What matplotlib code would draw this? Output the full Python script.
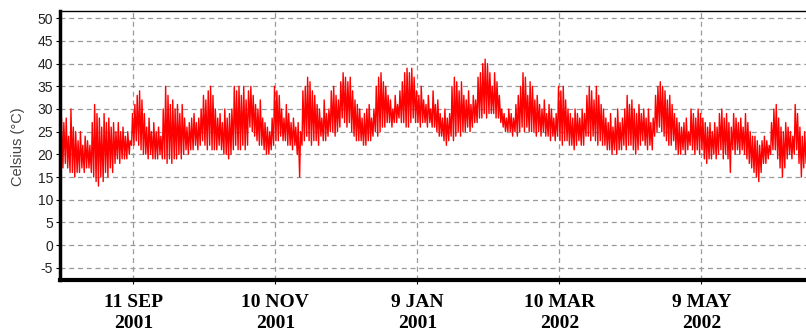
import numpy as np
import pandas as pd
import matplotlib
matplotlib.use("Agg")
import matplotlib.pyplot as plt

# daily min / max air temperature (deg C), first day 11 Aug 2001
start_day = "2001-08-11"
t_max = [28, 27, 28, 24, 30, 26, 25, 23, 25, 22,
         24, 23, 22, 27, 31, 29, 28, 26, 29, 27,
         28, 26, 27, 25, 27, 25, 26, 24, 25, 23,
         29, 31, 33, 34, 32, 29, 26, 28, 25, 27,
         25, 26, 24, 30, 35, 33, 31, 32, 30, 31,
         29, 31, 28, 26, 27, 28, 29, 27, 28, 30,
         33, 32, 34, 35, 33, 30, 28, 29, 27, 30,
         28, 29, 30, 35, 34, 35, 33, 35, 32, 34,
         35, 33, 31, 30, 32, 28, 27, 26, 25, 28,
         35, 34, 33, 30, 28, 31, 29, 27, 28, 26,
         27, 25, 34, 35, 37, 36, 34, 33, 31, 30,
         28, 32, 29, 30, 34, 35, 33, 32, 36,
         38, 37, 36, 37, 34, 32, 31, 30, 28, 29,
         30, 31, 28, 30, 35, 37, 38, 36, 35, 33,
         32, 30, 33, 31, 34, 36, 38, 39, 38, 39,
         37, 34, 33, 35, 32, 31, 33, 30, 34,
         31, 32, 29, 28, 30, 28, 29, 35, 37, 36,
         34, 36, 33, 32, 34, 31, 33, 32, 37, 38,
         40, 41, 40, 38, 35, 38, 36, 33, 30, 29,
         28, 30, 29, 28, 31, 33, 35, 38, 37, 33,
         36, 35, 32, 33, 31, 30, 32, 29, 31, 30,
         28, 29, 35, 34, 35, 32, 30, 29, 28, 30,
         29, 28, 30, 29, 33, 35, 34, 32, 35, 33,
         31, 30, 28, 27, 29, 26, 28, 30, 27,
         28, 30, 33, 31, 32, 30, 29, 31, 29, 30,
         28, 30, 27, 28, 33, 35, 36, 35, 34, 32,
         33, 31, 29, 28, 27, 26, 27, 28, 25, 30,
         29, 28, 30, 29, 28, 27, 26, 27, 25,
         27, 26, 29, 30, 28, 29, 27, 26, 29, 28,
         27, 28, 26, 29, 27, 25, 24, 24, 23, 22,
         23, 24, 23, 22, 27, 30, 31, 28, 26, 25,
         27, 26, 25, 24, 31, 29, 26, 24, 25, 26]
t_min = [18, 17, 18, 17, 16, 16, 15, 16, 16, 17,
         16, 17, 17, 16, 15, 14, 13, 15, 14, 16,
         15, 17, 16, 18, 19, 18, 19, 19, 19, 20,
         22, 22, 23, 22, 21, 20, 20, 19, 20, 19,
         19, 19, 20, 19, 19, 18, 19, 18, 19, 19,
         20, 19, 20, 21, 20, 21, 21, 22, 21, 22,
         23, 22, 21, 22, 21, 21, 21, 22, 21, 20,
         20, 19, 20, 21, 22, 21, 21, 22, 21, 22,
         26, 25, 24, 23, 22, 22, 21, 20, 20, 21,
         22, 23, 23, 24, 23, 23, 22, 22, 21, 22,
         20, 15, 22, 23, 24, 23, 22, 23, 23, 22,
         24, 23, 23, 24, 25, 25, 24, 25, 26,
         28, 27, 26, 27, 25, 24, 23, 23, 23, 22,
         22, 23, 23, 24, 25, 24, 25, 26, 26, 27,
         27, 26, 27, 27, 28, 27, 27, 26, 26, 27,
         28, 27, 27, 26, 27, 27, 26, 27, 26,
         26, 25, 24, 24, 23, 22, 23, 24, 23, 24,
         25, 24, 25, 25, 26, 25, 26, 27, 27, 28,
         28, 29, 28, 29, 29, 29, 28, 28, 27, 26,
         25, 25, 25, 24, 25, 24, 25, 26, 25, 26,
         25, 25, 25, 24, 25, 24, 25, 24, 24, 23,
         24, 23, 24, 23, 22, 23, 23, 22, 22, 21,
         22, 23, 22, 22, 24, 24, 23, 24, 23, 22,
         23, 22, 22, 21, 21, 20, 21, 20, 21,
         21, 22, 21, 22, 22, 21, 20, 21, 22, 23,
         22, 21, 22, 21, 24, 25, 26, 25, 24, 23,
         22, 22, 23, 21, 20, 20, 21, 20, 21, 22,
         21, 20, 21, 20, 21, 19, 18, 19, 19,
         20, 19, 20, 21, 19, 20, 19, 16, 21, 20,
         21, 20, 21, 20, 19, 18, 17, 16, 15, 14,
         16, 18, 18, 19, 20, 21, 21, 19, 17, 15,
         17, 19, 20, 19, 20, 21, 18, 15, 17, 18]

tick_dates = ["2001-09-11", "2001-11-10", "2002-01-09", "2002-03-10", "2002-05-09"]
tick_labels = ["11 SEP\n2001", "10 NOV\n2001", "9 JAN\n2001", "10 MAR\n2002", "9 MAY\n2002"]

# build a zig-zag: early morning low, afternoon high
days = pd.date_range(start_day, periods=len(t_max), freq="D")
times = []
temps = []
for day, lo, hi in zip(days, t_min, t_max):
    times.append(day + pd.Timedelta(hours=6))
    temps.append(lo)
    times.append(day + pd.Timedelta(hours=15))
    temps.append(hi)

fig = plt.figure(figsize=(8.06, 3.36), dpi=100)
ax = fig.add_axes([60 / 806, 56 / 336, 1 - 60 / 806, 269 / 336])

ax.plot(times, temps, color="#ff0000", lw=1.0)

x0 = pd.Timestamp(start_day)
ax.set_xlim(x0, x0 + pd.Timedelta(days=315.2))
ax.set_ylim(-7.7, 51.6)

ax.set_yticks(np.arange(-5, 51, 5))
ax.set_yticklabels([str(v) for v in range(-5, 51, 5)],
                   fontfamily="Liberation Sans", fontsize=10, color="#222222")
ax.set_xticks(pd.to_datetime(tick_dates))
ax.set_xticklabels(tick_labels, fontfamily="Liberation Serif", fontweight="bold",
                   fontsize=14, linespacing=1.35)
ax.tick_params(axis="y", length=3, pad=2)
ax.tick_params(axis="x", length=3, pad=7)

ax.grid(True, ls=(0, (4, 3)), color="#9a9a9a", lw=0.9)
ax.set_axisbelow(True)

ax.set_ylabel("Celsius (°C)", fontfamily="Liberation Sans", fontsize=10.5, color="#444444")
ax.yaxis.set_label_coords(-0.047, 0.494)

ax.spines["left"].set_linewidth(2.5)
ax.spines["bottom"].set_linewidth(3)
ax.spines["top"].set_linewidth(1)
ax.spines["right"].set_visible(False)

fig.savefig("out.png", dpi=100)
